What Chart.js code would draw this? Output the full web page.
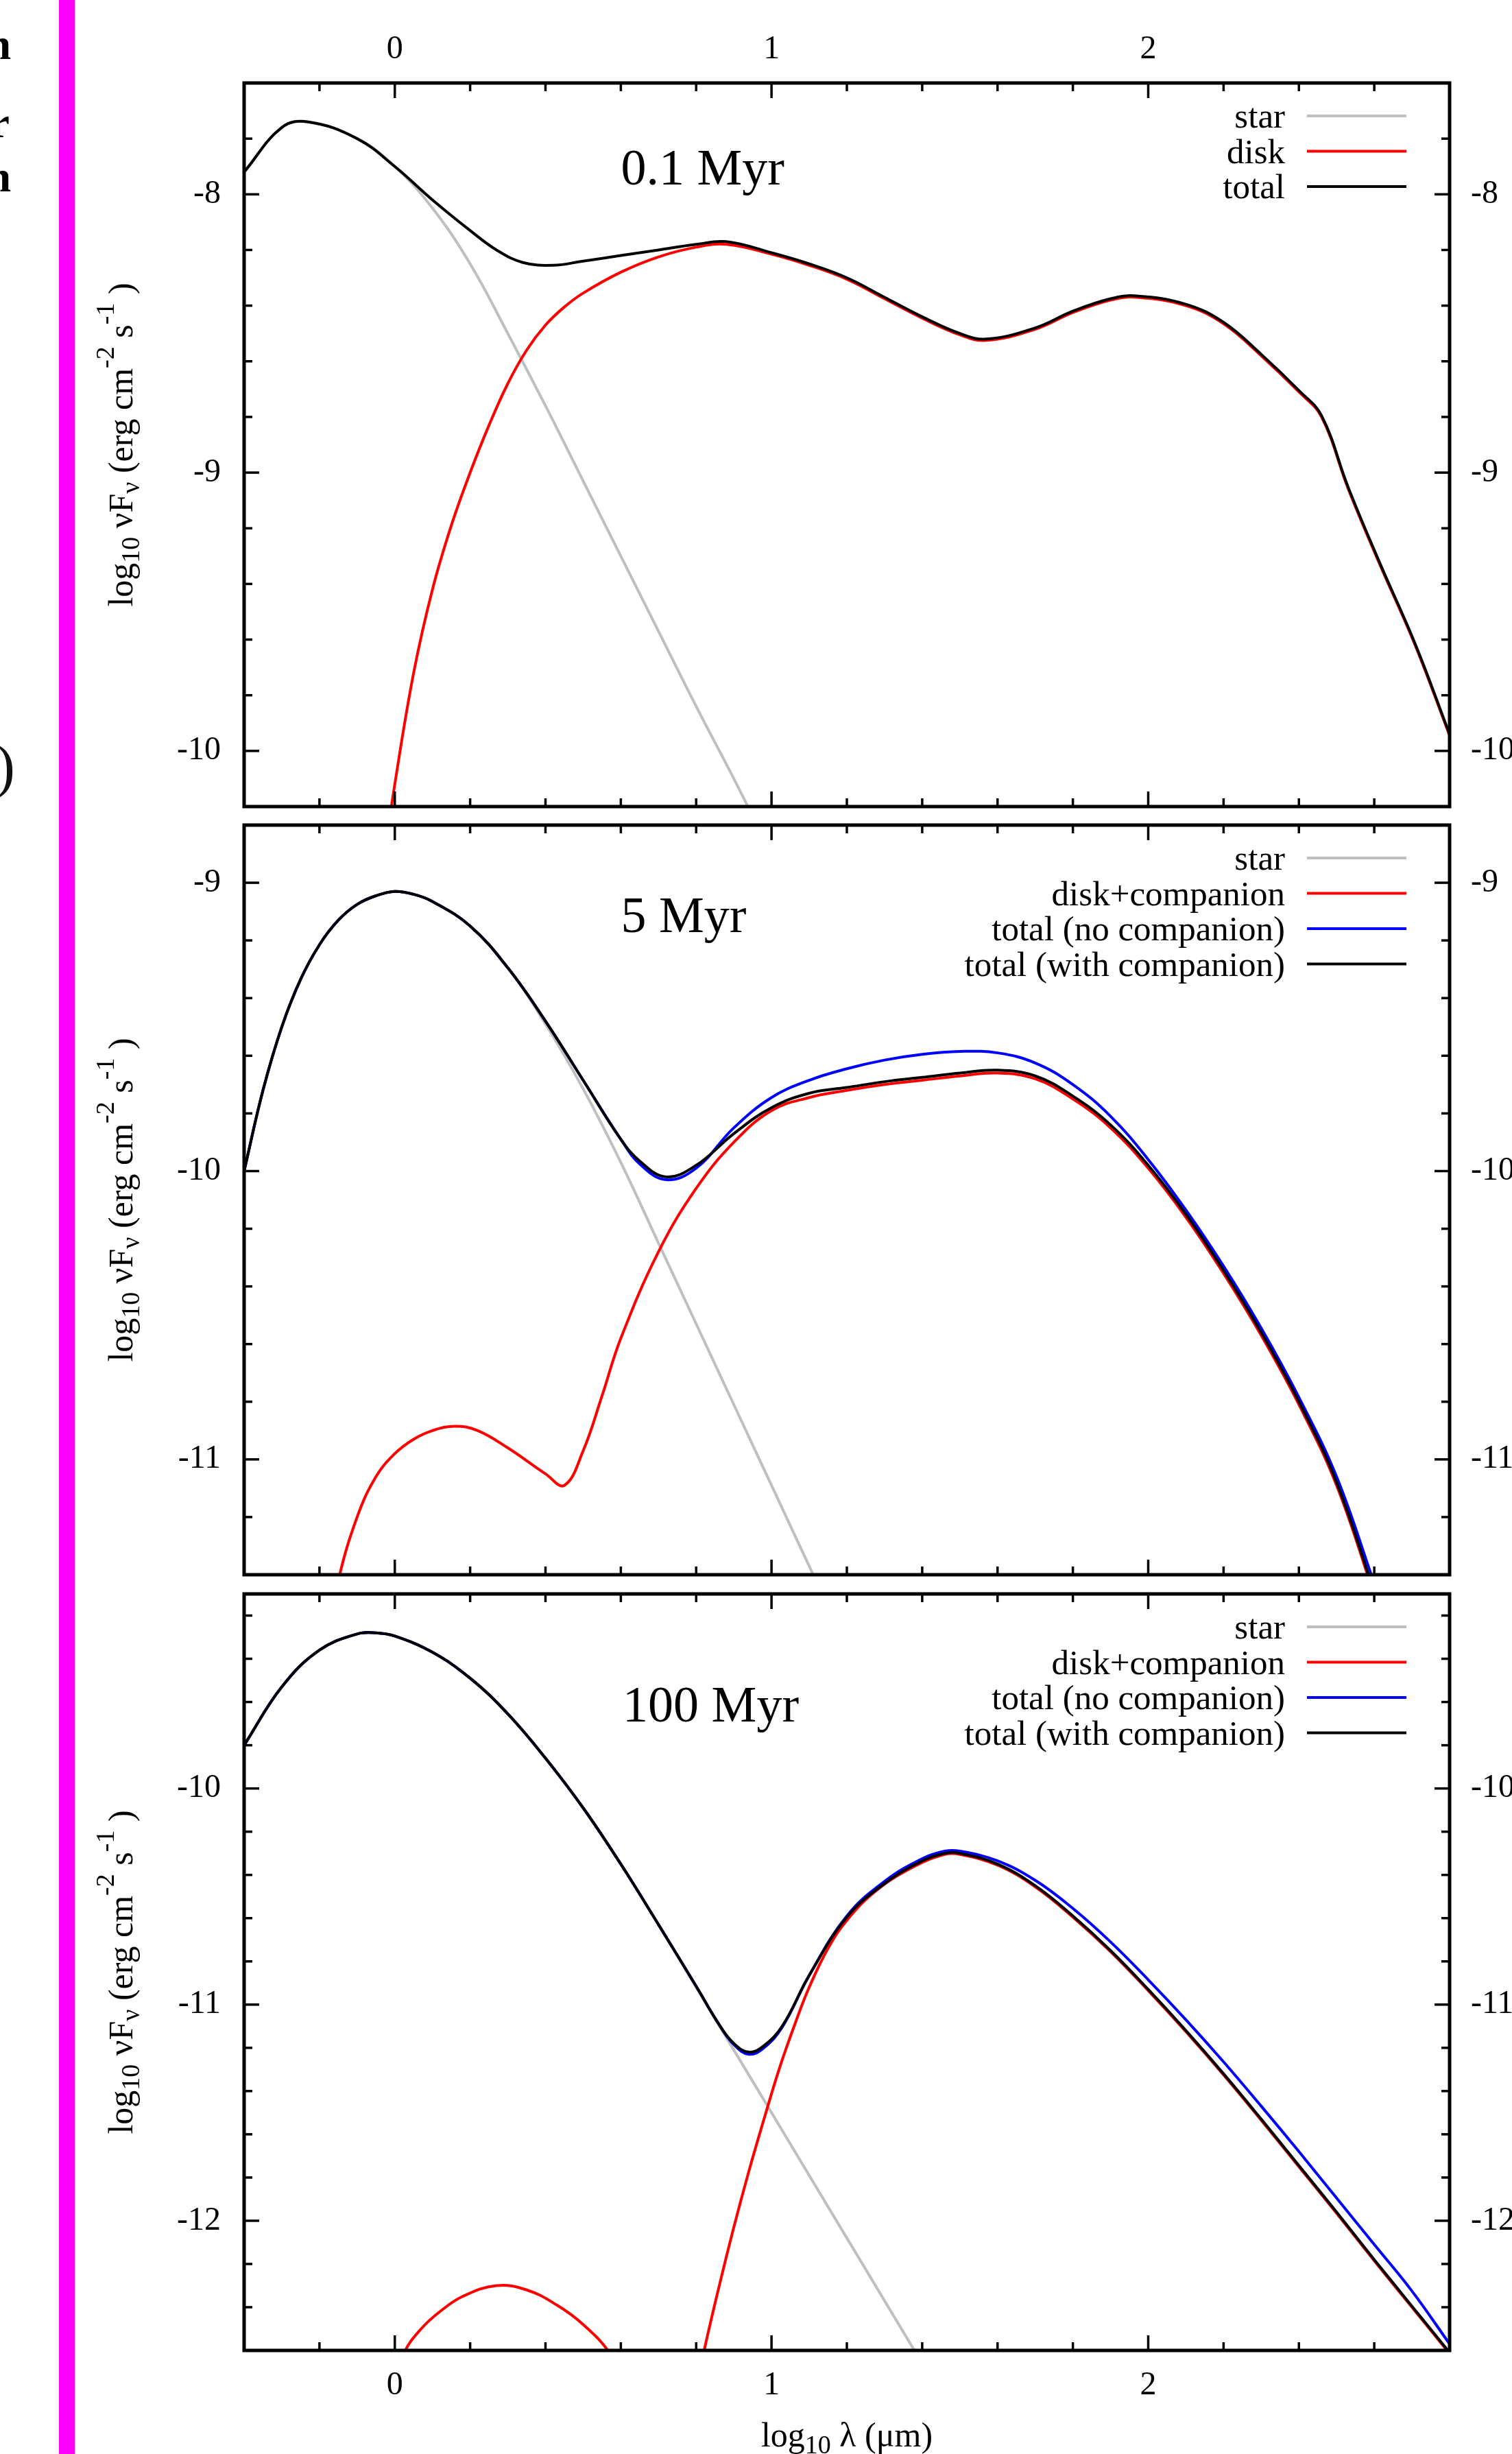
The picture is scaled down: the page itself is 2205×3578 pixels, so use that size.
<!DOCTYPE html>
<html>
<head>
<meta charset="utf-8">
<script src="https://cdn.jsdelivr.net/npm/chart.js@4.4.1/dist/chart.umd.min.js"></script>
<style>
  html, body { margin: 0; padding: 0; background: #fff; overflow: hidden; width: 2205px; height: 3578px; }
  body { position: relative; }
  canvas { position: absolute; left: 0; }
  .bar { position: absolute; left: 86px; top: 0; width: 23px; height: 3578px; background: #ff00ff; }
  .frag { position: absolute; font-family: "Liberation Serif", serif; color: #000; white-space: nowrap; line-height: 1; text-align: right; }
</style>
</head>
<body>
<div class="bar"></div>
<div class="frag" style="right:2189px; top:33px; font-size:64px; font-weight:bold;">n</div>
<div class="frag" style="right:2191px; top:147px; font-size:64px; font-weight:bold;">r</div>
<div class="frag" style="right:2189px; top:226px; font-size:64px; font-weight:bold;">n</div>
<div class="frag" style="right:2183px; top:1074px; font-size:86px; color:#111;">)</div>
<canvas id="c1"></canvas>
<canvas id="c2"></canvas>
<canvas id="c3"></canvas>
<script>
// ---- axes ----
const X_MIN = -0.4, X_MAX = 2.8;
const xTickLabels = [0, 1, 2];
const yRanges = [[-10.2, -7.6], [-11.4, -8.8], [-12.6, -9.1]];
const yTickLabels = [[-10, -9, -8], [-11, -10, -9], [-12, -11, -10]];
const panelNames = ['0.1 Myr', '5 Myr', '100 Myr'];
const panelNameAt = [[0.60, -7.965], [0.60, -9.17], [0.605, -9.69]];
const yTitleParts = [['log', 0], ['10', 1], [' \u03bdF', 0], ['\u03bd', 1], [' (erg cm', 0], ['-2', 2], [' s', 0], ['-1', 2], [' )', 0]];
const xTitleParts = [['log', 0], ['10', 1], [' \u03bb (\u03bcm)', 0]];

// ---- panel 1: 0.1 Myr ----
const p1Names = ['star', 'disk', 'total'];
const p1StarX = [-0.4, -0.3, -0.23, -0.1, 0, 0.1, 0.2, 0.3, 0.4, 0.5, 0.6, 0.7, 0.8, 0.9, 1.0];
const p1StarY = [-7.92, -7.76, -7.74, -7.80, -7.90, -8.05, -8.25, -8.50, -8.76, -9.03, -9.30, -9.57, -9.84, -10.10, -10.37];
const p1DiskX = [-0.03, 0, 0.05, 0.1, 0.15, 0.2, 0.25, 0.3, 0.35, 0.4, 0.45, 0.5, 0.6, 0.7, 0.8, 0.88, 1.0, 1.1, 1.2, 1.3, 1.4, 1.5, 1.57, 1.7, 1.8, 1.9, 1.97, 2.1, 2.2, 2.3, 2.4, 2.46, 2.53, 2.61, 2.71, 2.8];
const p1DiskY = [-10.4, -10.12, -9.72, -9.42, -9.19, -9.0, -8.83, -8.68, -8.56, -8.47, -8.405, -8.355, -8.28, -8.225, -8.19, -8.18, -8.215, -8.255, -8.305, -8.375, -8.445, -8.505, -8.525, -8.485, -8.425, -8.38, -8.37, -8.40, -8.465, -8.58, -8.71, -8.80, -9.055, -9.315, -9.625, -9.945];
const p1TotalX = [-0.4, -0.3, -0.23, -0.1, 0, 0.1, 0.2, 0.27, 0.34, 0.42, 0.5, 0.6, 0.7, 0.8, 0.88, 1.0, 1.1, 1.2, 1.3, 1.4, 1.5, 1.57, 1.7, 1.8, 1.9, 1.97, 2.1, 2.2, 2.3, 2.4, 2.46, 2.53, 2.61, 2.71, 2.8];
const p1TotalY = [-7.92, -7.76, -7.74, -7.80, -7.90, -8.02, -8.13, -8.20, -8.245, -8.255, -8.24, -8.22, -8.20, -8.18, -8.17, -8.21, -8.25, -8.30, -8.37, -8.44, -8.50, -8.52, -8.48, -8.42, -8.375, -8.365, -8.395, -8.46, -8.575, -8.705, -8.795, -9.05, -9.31, -9.62, -9.94];

// ---- panel 2: 5 Myr ----
const compNames = ['star', 'disk+companion', 'total (no companion)', 'total (with companion)'];
const p2StarX = [-0.4, -0.35, -0.3, -0.25, -0.2, -0.15, -0.1, -0.05, 0, 0.05, 0.1, 0.2, 0.3, 0.4, 0.5, 0.6, 0.7, 0.8, 0.9, 1.0, 1.1, 1.2];
const p2StarY = [-10.0, -9.72, -9.50, -9.335, -9.215, -9.13, -9.075, -9.045, -9.03, -9.04, -9.065, -9.15, -9.295, -9.49, -9.715, -9.97, -10.25, -10.53, -10.81, -11.09, -11.37, -11.65];
const p2DiskX = [-0.2, -0.15, -0.1, -0.05, 0, 0.05, 0.1, 0.16, 0.22, 0.3, 0.4, 0.45, 0.5, 0.55, 0.6, 0.7, 0.8, 0.9, 1.0, 1.1, 1.2, 1.3, 1.4, 1.5, 1.6, 1.7, 1.8, 1.9, 2.0, 2.1, 2.2, 2.3, 2.4, 2.5, 2.6];
const p2DiskY = [-11.75, -11.42, -11.2, -11.06, -10.98, -10.93, -10.90, -10.885, -10.90, -10.96, -11.05, -11.09, -10.97, -10.78, -10.58, -10.28, -10.06, -9.90, -9.79, -9.745, -9.72, -9.70, -9.685, -9.67, -9.66, -9.68, -9.75, -9.85, -9.99, -10.16, -10.355, -10.57, -10.81, -11.09, -11.47];
const p2TotX = [-0.4, -0.35, -0.3, -0.25, -0.2, -0.15, -0.1, -0.05, 0, 0.05, 0.1, 0.2, 0.3, 0.4, 0.5, 0.6, 0.65, 0.72, 0.8, 0.9, 1.0, 1.1, 1.2, 1.3, 1.4, 1.5, 1.6, 1.7, 1.8, 1.9, 2.0, 2.1, 2.2, 2.3, 2.4, 2.5, 2.6];
const p2NoCompY = [-10.0, -9.72, -9.50, -9.335, -9.215, -9.13, -9.075, -9.045, -9.03, -9.04, -9.065, -9.15, -9.295, -9.48, -9.685, -9.89, -9.975, -10.03, -9.99, -9.85, -9.745, -9.685, -9.645, -9.615, -9.595, -9.585, -9.59, -9.625, -9.70, -9.81, -9.96, -10.135, -10.33, -10.545, -10.785, -11.06, -11.43];
const p2WithCompY = [-10.0, -9.72, -9.50, -9.335, -9.215, -9.13, -9.075, -9.045, -9.03, -9.04, -9.065, -9.15, -9.295, -9.48, -9.685, -9.89, -9.965, -10.02, -9.98, -9.87, -9.78, -9.73, -9.71, -9.69, -9.675, -9.66, -9.65, -9.67, -9.74, -9.84, -9.98, -10.15, -10.345, -10.56, -10.80, -11.08, -11.46];

// ---- panel 3: 100 Myr ----
const p3StarX = [-0.4, -0.3, -0.2, -0.1, -0.05, 0, 0.1, 0.2, 0.3, 0.4, 0.5, 0.6, 0.7, 0.8, 0.9, 1.0, 1.1, 1.2, 1.3, 1.4];
const p3StarY = [-9.80, -9.53, -9.36, -9.285, -9.28, -9.295, -9.37, -9.49, -9.655, -9.86, -10.09, -10.35, -10.63, -10.92, -11.21, -11.50, -11.79, -12.08, -12.37, -12.66];
const p3DiskX = [-0.05, 0.025, 0.07, 0.12, 0.18, 0.27, 0.35, 0.43, 0.5, 0.57, 0.65, 0.78, 0.82, 0.86, 0.9, 0.94, 0.98, 1.02, 1.06, 1.1, 1.15, 1.2, 1.28, 1.38, 1.46, 1.5, 1.6, 1.7, 1.8, 1.9, 2.0, 2.1, 2.2, 2.3, 2.4, 2.5, 2.6, 2.7, 2.8];
const p3DiskY = [-12.95, -12.61, -12.50, -12.42, -12.35, -12.30, -12.32, -12.39, -12.48, -12.61, -12.85, -12.95, -12.61, -12.31, -12.03, -11.77, -11.53, -11.30, -11.10, -10.92, -10.74, -10.61, -10.47, -10.36, -10.305, -10.305, -10.355, -10.455, -10.595, -10.755, -10.935, -11.125, -11.325, -11.535, -11.75, -11.965, -12.185, -12.40, -12.615];
const p3TotX = [-0.4, -0.3, -0.2, -0.1, -0.05, 0, 0.1, 0.2, 0.3, 0.4, 0.5, 0.6, 0.7, 0.8, 0.86, 0.9, 0.94, 0.98, 1.03, 1.1, 1.2, 1.3, 1.4, 1.46, 1.5, 1.6, 1.7, 1.8, 1.9, 2.0, 2.1, 2.2, 2.3, 2.4, 2.5, 2.6, 2.7, 2.8];
const p3NoCompY = [-9.80, -9.53, -9.36, -9.285, -9.28, -9.295, -9.37, -9.49, -9.655, -9.86, -10.09, -10.35, -10.63, -10.915, -11.09, -11.185, -11.23, -11.20, -11.10, -10.865, -10.59, -10.43, -10.325, -10.29, -10.29, -10.335, -10.425, -10.555, -10.71, -10.885, -11.07, -11.265, -11.47, -11.68, -11.895, -12.11, -12.325, -12.57];
const p3WithCompY = [-9.80, -9.53, -9.36, -9.285, -9.28, -9.295, -9.37, -9.49, -9.655, -9.86, -10.09, -10.35, -10.63, -10.915, -11.09, -11.18, -11.22, -11.19, -11.095, -10.865, -10.595, -10.44, -10.335, -10.30, -10.30, -10.35, -10.45, -10.59, -10.75, -10.93, -11.12, -11.32, -11.53, -11.745, -11.96, -12.18, -12.395, -12.61];

const COLORS = { star: '#bfbfbf', disk: '#ff0000', nocomp: '#0000ff', total: '#000000' };
const SERIF = '"Liberation Serif", "Times New Roman", serif';
Chart.defaults.font.family = SERIF;

const series = (label, xs, ys, color, order) => ({
  label,
  data: xs.map((x, i) => ({ x, y: ys[i] })),
  borderColor: color,
  borderWidth: 4,
  pointRadius: 0,
  fill: false,
  tension: 0.4,
  order,
  clip: 0
});

const line = (ctx, x1, y1, x2, y2) => {
  ctx.beginPath(); ctx.moveTo(x1, y1); ctx.lineTo(x2, y2); ctx.stroke();
};

// draws text with sub/superscript pieces, centred on (x, y)
const drawRich = (ctx, parts, x, y, rotate) => {
  const fonts = ['50px ' + SERIF, '38px ' + SERIF, '38px ' + SERIF];
  const shift = [0, 10, -27];
  ctx.save();
  ctx.translate(x, y);
  if (rotate) ctx.rotate(-Math.PI / 2);
  ctx.fillStyle = '#000';
  ctx.textAlign = 'left';
  ctx.textBaseline = 'alphabetic';
  let total = 0;
  parts.forEach(([t, k]) => { ctx.font = fonts[k]; total += ctx.measureText(t).width; });
  let cx = -total / 2;
  parts.forEach(([t, k]) => {
    ctx.font = fonts[k];
    ctx.fillText(t, cx, shift[k]);
    cx += ctx.measureText(t).width;
  });
  ctx.restore();
};

// frame + inward gnuplot style ticks
const framePlugin = {
  id: 'sedFrame',
  afterDraw(chart) {
    const { ctx, chartArea: a } = chart;
    const xs = chart.scales.x, ys = chart.scales.y;
    ctx.save();
    ctx.strokeStyle = '#000';
    ctx.lineWidth = 3.5;
    const nx = Math.round((X_MAX - X_MIN) / 0.2);
    for (let i = 0; i <= nx; i++) {
      const v = X_MIN + i * 0.2;
      const len = Math.abs(v - Math.round(v)) < 1e-6 ? 22 : 12;
      const px = xs.getPixelForValue(v);
      line(ctx, px, a.top, px, a.top + len);
      line(ctx, px, a.bottom, px, a.bottom - len);
    }
    const ny = Math.round((ys.max - ys.min) / 0.2);
    for (let i = 0; i <= ny; i++) {
      const v = ys.min + i * 0.2;
      const len = Math.abs(v - Math.round(v)) < 1e-6 ? 22 : 12;
      const py = ys.getPixelForValue(v);
      line(ctx, a.left, py, a.left + len, py);
      line(ctx, a.right, py, a.right - len, py);
    }
    ctx.lineWidth = 5;
    ctx.strokeRect(a.left, a.top, a.right - a.left, a.bottom - a.top);
    ctx.restore();
  }
};

// legend: right aligned names with line samples, inside the frame
const legendPlugin = {
  id: 'sedLegend',
  afterDraw(chart) {
    const { ctx, chartArea: a } = chart;
    ctx.save();
    ctx.font = '51px ' + SERIF;
    ctx.fillStyle = '#000';
    ctx.textAlign = 'right';
    ctx.textBaseline = 'alphabetic';
    chart.data.datasets.forEach((d, i) => {
      const y = a.top + 48 + i * 51.5;
      ctx.fillText(d.label, a.right - 240, y + 17);
      ctx.strokeStyle = d.borderColor;
      ctx.lineWidth = 4;
      line(ctx, a.right - 208, y, a.right - 63, y);
    });
    ctx.restore();
  }
};

// panel name, axis titles
const textPlugin = {
  id: 'sedText',
  afterDraw(chart, args, opts) {
    const { ctx, chartArea: a } = chart;
    const xs = chart.scales.x, ys = chart.scales.y;
    ctx.save();
    ctx.font = '74px ' + SERIF;
    ctx.fillStyle = '#000';
    ctx.textAlign = 'left';
    ctx.textBaseline = 'alphabetic';
    ctx.fillText(opts.name, xs.getPixelForValue(opts.at[0]), ys.getPixelForValue(opts.at[1]));
    ctx.restore();
    drawRich(ctx, yTitleParts, 193, (a.top + a.bottom) / 2, true);
    if (opts.xTitle) drawRich(ctx, xTitleParts, (a.left + a.right) / 2, a.bottom + 140, false);
  }
};

const tickFont = { size: 48, family: SERIF };

const buildPanel = (k, canvasId, top, height, datasets, xAxis, pad) => {
  const cv = document.getElementById(canvasId);
  cv.style.top = top + 'px';
  cv.width = 2300;
  cv.height = height;
  const yAxis = (position, width, padding) => ({
    type: 'linear',
    position,
    min: yRanges[k][0],
    max: yRanges[k][1],
    grid: { display: false, drawTicks: false },
    border: { display: false },
    ticks: { font: tickFont, color: '#000', padding, callback: v => String(v) },
    afterBuildTicks: s => { s.ticks = yTickLabels[k].map(v => ({ value: v })); },
    afterFit: s => { s.width = width; s.paddingTop = 0; s.paddingBottom = 0; }
  });
  return new Chart(cv.getContext('2d'), {
    type: 'line',
    data: { datasets },
    options: {
      responsive: false,
      animation: false,
      devicePixelRatio: 1,
      layout: { padding: { left: 0, right: 0, top: pad[0], bottom: pad[1] } },
      plugins: {
        legend: { display: false },
        tooltip: { enabled: false },
        sedText: { name: panelNames[k], at: panelNameAt[k], xTitle: k === 2 }
      },
      scales: {
        x: {
          type: 'linear',
          position: xAxis.position,
          display: xAxis.show,
          min: X_MIN,
          max: X_MAX,
          grid: { display: false, drawTicks: false },
          border: { display: false },
          ticks: { font: tickFont, color: '#000', padding: xAxis.padding, maxRotation: 0, autoSkip: false, callback: v => String(v) },
          afterBuildTicks: s => { s.ticks = xTickLabels.map(v => ({ value: v })); },
          afterFit: s => { s.height = xAxis.height; s.paddingLeft = 0; s.paddingRight = 0; }
        },
        y: yAxis('left', 356, 34),
        y2: yAxis('right', 186, 31)
      }
    },
    plugins: [framePlugin, legendPlugin, textPlugin]
  });
};

buildPanel(0, 'c1', 0, 1186, [
  series(p1Names[0], p1StarX, p1StarY, COLORS.star, 3),
  series(p1Names[1], p1DiskX, p1DiskY, COLORS.disk, 2),
  series(p1Names[2], p1TotalX, p1TotalY, COLORS.total, 0)
], { position: 'top', show: true, height: 121, padding: 20 }, [0, 10]);

buildPanel(1, 'c2', 1193, 1113, [
  series(compNames[0], p2StarX, p2StarY, COLORS.star, 3),
  series(compNames[1], p2DiskX, p2DiskY, COLORS.disk, 2),
  series(compNames[2], p2TotX, p2NoCompY, COLORS.nocomp, 1),
  series(compNames[3], p2TotX, p2WithCompY, COLORS.total, 0)
], { position: 'bottom', show: false, height: 0, padding: 0 }, [10, 10]);

buildPanel(2, 'c3', 2314, 1264, [
  series(compNames[0], p3StarX, p3StarY, COLORS.star, 3),
  series(compNames[1], p3DiskX, p3DiskY, COLORS.disk, 2),
  series(compNames[2], p3TotX, p3NoCompY, COLORS.nocomp, 1),
  series(compNames[3], p3TotX, p3WithCompY, COLORS.total, 0)
], { position: 'bottom', show: true, height: 151, padding: 23 }, [10, 0]);
</script>
</body>
</html>
